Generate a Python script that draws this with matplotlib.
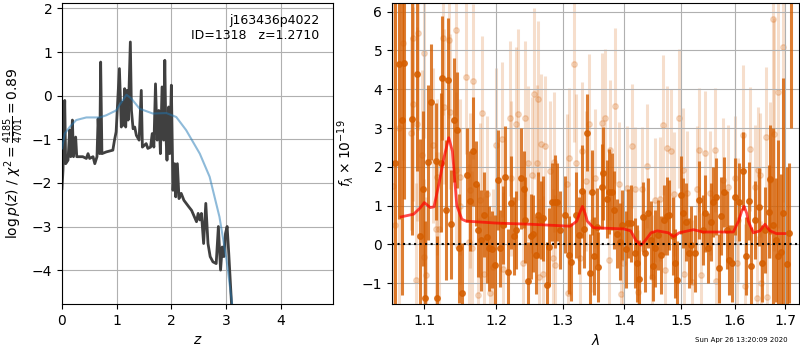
import matplotlib
matplotlib.use('Agg')
import matplotlib.pyplot as plt
from matplotlib.ticker import FixedLocator, NullLocator

################## data: p(z) panel
z_pz = [0.0, 0.018, 0.05, 0.067, 0.11, 0.14, 0.16, 0.19, 0.21, 0.25, 0.27, 0.38, 0.445, 0.476,
        0.506, 0.567, 0.60, 0.64, 0.66, 0.69, 0.707, 0.73, 0.81, 0.93, 0.96, 0.99, 1.05, 1.085,
        1.10, 1.13, 1.146, 1.165, 1.19, 1.21, 1.25, 1.27, 1.30, 1.33, 1.36, 1.41, 1.45, 1.47,
        1.54, 1.57, 1.62, 1.65, 1.68, 1.71, 1.74, 1.77, 1.80, 1.83, 1.86, 1.88, 1.90, 1.92,
        1.95, 1.97, 2.00, 2.03, 2.06, 2.08, 2.11, 2.14, 2.18, 2.23, 2.32, 2.37, 2.46, 2.49,
        2.52, 2.55, 2.59, 2.63, 2.67, 2.71, 2.76, 2.82, 2.86, 2.90, 2.93, 2.96, 2.99, 3.02,
        3.05, 3.10, 3.13]
logp = [-2.13, -1.71, -0.11, -1.56, -1.48, -0.79, -1.40, -0.56, -1.40, -0.95, -1.40, -1.40, -1.44, -1.33,
        -1.44, -1.40, -1.56, -1.40, -0.53, -1.33, 0.77, -1.33, -1.29, -1.25, -1.02, -0.83, 0.62, -0.72,
        -0.15, -0.68, 0.16, -0.72, 0.12, -0.56, 1.23, -0.34, -0.76, -0.72, -0.91, -1.02, 0.12, -1.18,
        -1.10, -1.21, -1.18, -0.87, -1.18, 0.27, -1.02, -0.34, -1.33, 0.20, -1.02, 0.81, -0.87, -1.48,
        -0.26, -1.33, 0.24, -2.17, -1.56, -2.32, -1.56, -2.36, -2.24, -2.40, -2.55, -2.63, -2.89, -2.70,
        -2.85, -2.70, -3.39, -2.47, -3.39, -3.69, -3.81, -3.85, -3.00, -4.00, -3.47, -3.69, -3.16, -3.00,
        -3.62, -4.76, -5.50]

z_smooth = [0.0, 0.05, 0.14, 0.26, 0.445, 0.69, 0.81, 0.99, 1.05, 1.18, 1.27, 1.42, 1.66, 1.91,
            2.09, 2.27, 2.52, 2.70, 2.88, 3.01, 3.11, 3.16]
logp_smooth = [-1.21, -0.87, -0.72, -0.56, -0.50, -0.50, -0.45, -0.34, -0.22, 0.02, -0.07, -0.30, -0.41, -0.40,
               -0.49, -0.79, -1.33, -1.86, -2.78, -3.77, -4.76, -5.50]

################## data: spectrum panel (flux in 1e-19 units, wave in microns)
dark_wave = [1.0623, 1.0665, 1.0709, 1.0739, 1.0842, 1.0907, 1.0947, 1.0987, 1.1013, 1.1053, 1.1093,
             1.1156, 1.1174, 1.1224, 1.1237, 1.1286, 1.1313, 1.1354, 1.1395, 1.1437, 1.1465, 1.1506,
             1.1587, 1.1617, 1.1659, 1.1702, 1.1730, 1.1778, 1.1821, 1.1863, 1.1900, 1.1935, 1.1978,
             1.2016, 1.2045, 1.2094, 1.2132, 1.2176, 1.2211, 1.2260, 1.2294, 1.2368, 1.2405, 1.2424,
             1.2459, 1.2504, 1.2540, 1.2580, 1.2624, 1.2661, 1.2700, 1.2752, 1.2783, 1.2834, 1.2876,
             1.2912, 1.2959, 1.3042, 1.3100, 1.3137, 1.3211, 1.3264, 1.3307, 1.3344, 1.3392, 1.3435,
             1.3463, 1.3500, 1.3544, 1.3570, 1.3626, 1.3652, 1.3709, 1.3751, 1.3791, 1.3830, 1.3875,
             1.3930, 1.3964, 1.4031, 1.4070, 1.4121, 1.4179, 1.4219, 1.4253, 1.4316, 1.4356, 1.4408,
             1.4455, 1.4501, 1.4536, 1.4588, 1.4636, 1.4689, 1.4736, 1.4783, 1.4843, 1.4890, 1.4926,
             1.4987, 1.5034, 1.5089, 1.5132, 1.5180, 1.5248, 1.5326, 1.5389, 1.5438, 1.5493, 1.5544,
             1.5587, 1.5638, 1.5688, 1.5738, 1.5795, 1.5841, 1.5891, 1.5943, 1.6007, 1.6078, 1.6150,
             1.6214, 1.6273, 1.6317, 1.6397, 1.6475, 1.6523, 1.6595, 1.6663, 1.6689, 1.6749, 1.6810,
             1.6851, 1.6905, 1.6952, 1.7028, 1.7082, 1.7117]
dark_flux = [2.11, 4.65, 3.20, 4.68, 3.23, 4.39, 0.21, 1.44, -1.39, 2.12, 3.67,
             2.14, -1.39, 2.11, 4.28, 0.88, 4.25, 0.52, 3.20, 2.95, -0.10, -1.26,
             1.79, 1.12, 2.40, 1.57, 0.37, 0.11, 0.77, 0.20, -0.10, -0.13, -0.53,
             1.66, -0.10, 0.50, 1.74, -0.70, 1.07, 0.21, 0.37, 1.70, 1.42, 0.63,
             -0.94, 0.21, 0.28, -0.27, 0.76, 0.63, 0.67, -1.05, -0.06, 1.10, 1.10,
             1.10, 0.37, 0.77, -0.27, -0.45, 0.76, 0.23, 1.37, 0.39, 2.88, -0.73,
             1.34, -0.30, 0.46, -0.58, 1.49, 1.83, 1.17, 1.36, 1.36, 0.88, 0.28,
             0.07, 0.50, -0.13, 0.54, 0.54, -0.23, -0.49, -0.88, 0.71, -0.23, 0.80,
             0.11, -0.56, -0.10, 0.24, -0.27, 0.64, 0.73, 0.76, 0.21, -0.49, -0.92,
             1.27, 0.80, 0.58, -0.23, -0.02, -0.23, 1.14, 0.37, 0.80, -0.10, 0.58,
             1.10, 1.23, -0.62, 0.73, 1.36, 0.37, -0.40, -0.49, 1.23, 1.10, 1.90,
             -0.30, 1.12, -0.56, 0.63, 0.97, -0.49, 0.37, 0.84, 1.68, 0.50, 0.11,
             -0.30, -0.19, 0.80, -0.50, 0.30, 9.00]
dark_err = [5.0, 4.0, 4.5, 3.5, 3.0, 2.5, 2.5, 2.0, 2.0, 2.0, 1.5,
            1.5, 1.6, 1.8, 1.6, 1.8, 1.6, 1.4, 1.6, 1.5, 1.4, 1.3,
            1.2, 1.3, 1.4, 1.1, 1.2, 1.3, 1.1, 1.2, 1.1, 1.0, 1.3,
            1.3, 1.0, 1.0, 1.3, 1.1, 1.2, 1.0, 1.0, 1.3, 1.0, 1.1,
            1.0, 1.1, 1.0, 1.0, 1.1, 1.0, 1.1, 1.1, 1.0, 1.0, 1.2,
            1.0, 1.0, 1.0, 1.0, 1.0, 1.1, 1.0, 1.2, 1.0, 1.0, 1.0,
            1.1, 1.0, 1.0, 0.9, 1.1, 1.2, 1.0, 1.1, 1.0, 1.0, 0.9,
            1.0, 0.9, 1.0, 0.9, 1.0, 0.9, 1.0, 1.0, 0.9, 1.0, 0.9,
            1.0, 0.9, 1.0, 0.9, 1.0, 0.9, 1.0, 0.9, 1.0, 0.9, 1.0,
            1.0, 0.9, 1.0, 0.9, 1.0, 1.0, 1.0, 0.9, 1.0, 0.9, 1.0,
            0.9, 1.0, 0.9, 1.0, 0.9, 1.0, 0.9, 1.0, 1.0, 1.0, 1.0,
            1.0, 1.0, 1.0, 1.0, 1.0, 1.0, 1.1, 1.2, 1.4, 2.5, 1.6,
            3.0, 2.0, 3.5, 2.5, 1.8, 6.0]

light_wave = [1.0597, 1.0623, 1.0674, 1.0726, 1.0825, 1.0846, 1.0855, 1.0903, 1.0888, 1.0920, 1.0991,
              1.0973, 1.1000, 1.1027, 1.1116, 1.1156, 1.1170, 1.1191, 1.1248, 1.1259, 1.1332, 1.1340,
              1.1423, 1.1433, 1.1478, 1.1488, 1.1571, 1.1603, 1.1627, 1.1651, 1.1665, 1.1758, 1.1740,
              1.1792, 1.1815, 1.1863, 1.1910, 1.1957, 1.1996, 1.2088, 1.2103, 1.2191, 1.2216, 1.2285,
              1.2324, 1.2389, 1.2416, 1.2473, 1.2533, 1.2564, 1.2615, 1.2597, 1.2635, 1.2661, 1.2700,
              1.2726, 1.2803, 1.2855, 1.2866, 1.2886, 1.3064, 1.3105, 1.3084, 1.3184, 1.3211, 1.3275,
              1.3302, 1.3376, 1.3411, 1.3463, 1.3517, 1.3626, 1.3672, 1.3763, 1.3746, 1.3846, 1.3918,
              1.3947, 1.3972, 1.4052, 1.4138, 1.4184, 1.4241, 1.4299, 1.4385, 1.4472, 1.4530, 1.4618,
              1.4677, 1.4707, 1.4733, 1.4808, 1.4866, 1.4962, 1.5034, 1.5056, 1.5096, 1.5187, 1.5278,
              1.5326, 1.5357, 1.5432, 1.5525, 1.5619, 1.5647, 1.5765, 1.5872, 1.6001, 1.6034, 1.6053,
              1.6162, 1.6195, 1.6292, 1.6391, 1.6424, 1.6456, 1.6489, 1.6519, 1.6610, 1.6638, 1.6699,
              1.6743, 1.6770, 1.6857, 1.6946]
light_flux = [1.50, 0.50, 3.00, 5.18, 2.86, 5.31, 3.61, 3.10, -0.92, 5.44, 4.94,
              2.30, -0.32, -0.79, 2.56, 0.39, 1.74, 0.39, 5.33, 3.55, 5.27, 3.42,
              1.92, 5.54, 0.99, 1.74, 4.32, 0.07, 1.40, -0.10, 4.21, 1.14, -1.31,
              3.38, -0.75, 1.31, -1.26, -0.58, 2.56, 2.71, -0.64, 3.25, 1.70, 3.10,
              3.35, -0.49, 3.25, 2.09, 1.79, 3.89, 3.76, 2.10, -0.83, 2.59, -0.75,
              2.53, 1.90, -0.36, 2.13, -0.52, 1.57, 2.22, -1.26, 4.65, 2.09, -0.36,
              2.40, 1.63, 3.10, 0.58, 1.70, 3.14, 3.25, 2.43, -0.40, 3.58, 1.55,
              -1.28, -0.49, 1.46, 2.54, 1.42, -1.22, 1.42, 2.03, -0.83, 1.14, 1.16,
              3.08, -0.66, 2.49, 2.40, 1.29, 3.25, 1.92, -0.75, 1.33, -0.96, 1.44,
              2.43, -0.79, 2.35, 1.33, 2.43, -0.94, 1.66, 1.49, 1.70, -0.49, 0.63,
              2.82, -1.07, 2.47, 1.49, -1.39, 1.93, 1.79, -0.99, 2.77, -1.35, 1.66,
              5.82, 2.84, 3.93, 5.09]
light_err = [5.0, 6.0, 5.0, 3.0, 2.5, 2.5, 2.5, 2.5, 2.5, 2.5, 2.2,
             2.2, 2.0, 2.0, 2.0, 2.0, 2.0, 2.0, 2.0, 2.0, 2.0, 2.0,
             2.0, 2.2, 2.0, 2.0, 2.0, 2.0, 2.0, 2.0, 2.0, 2.0, 2.0,
             2.0, 2.0, 2.0, 2.0, 2.0, 2.0, 2.0, 2.0, 2.0, 2.0, 2.0,
             2.2, 2.0, 2.0, 2.0, 2.0, 2.2, 2.0, 2.0, 2.0, 1.8, 2.0,
             1.8, 1.8, 1.8, 1.8, 1.8, 1.8, 1.8, 1.8, 2.0, 1.8, 1.8,
             1.8, 1.8, 1.8, 1.8, 1.8, 1.8, 1.8, 1.8, 1.8, 2.0, 1.6,
             1.6, 1.6, 1.6, 1.6, 1.6, 1.6, 1.6, 1.6, 1.6, 1.6, 1.6,
             1.8, 1.6, 1.6, 1.6, 1.6, 1.8, 1.6, 1.6, 1.6, 1.6, 1.6,
             1.6, 1.6, 1.6, 1.6, 1.6, 1.6, 1.6, 1.6, 1.6, 1.6, 1.6,
             1.8, 1.6, 1.6, 1.6, 1.6, 1.6, 1.6, 1.6, 1.8, 1.8, 2.0,
             3.0, 3.0, 3.5, 4.0]

model_wave = [1.0697, 1.0860, 1.0950, 1.1000, 1.1080, 1.1130, 1.1200, 1.1260, 1.1330, 1.1380,
              1.1440, 1.1510, 1.1570, 1.2000, 1.2500, 1.3116, 1.3222, 1.3265, 1.3312, 1.3355,
              1.3390, 1.3490, 1.3989, 1.4110, 1.4200, 1.4285, 1.4360, 1.4460, 1.4570, 1.4765,
              1.4860, 1.4960, 1.5220, 1.5400, 1.5970, 1.6070, 1.6130, 1.6180, 1.6230, 1.6260,
              1.6360, 1.6490, 1.6590, 1.6690, 1.6820, 1.6990]
model_flux = [0.71, 0.78, 0.95, 1.08, 0.95, 0.97, 1.60, 2.20, 2.75, 2.40,
              1.00, 0.65, 0.60, 0.55, 0.52, 0.47, 0.60, 0.80, 0.98, 0.80,
              0.60, 0.43, 0.40, 0.35, 0.10, -0.02, 0.10, 0.30, 0.35, 0.30,
              0.20, 0.30, 0.38, 0.32, 0.32, 0.60, 0.85, 0.98, 0.80, 0.60,
              0.30, 0.35, 0.52, 0.35, 0.28, 0.28]

xticks_spec = [1.1, 1.2, 1.3, 1.4, 1.5, 1.6, 1.7]
grism_color = (0.8352941176470589, 0.3686274509803922, 0.0)

################## figure
fig = plt.figure(figsize=(8, 3.5), dpi=100)

axz = fig.add_axes([0.0775, 0.131, 0.339, 0.860])
axz.plot(z_pz, logp, color='0.25', lw=2, zorder=2)
axz.plot(z_smooth, logp_smooth, color='#1f77b4', alpha=0.5, lw=1.5, zorder=3)
axz.set_xlim(0, 4.96)
axz.set_ylim(-4.78, 2.12)
axz.set_xticks([0, 1, 2, 3, 4])
axz.set_yticks([-4, -3, -2, -1, 0, 1, 2])
axz.grid(True)
axz.set_xlabel('$z$')
axz.set_ylabel(r'$\log p(z)$ / $\chi^2=\frac{4185}{4701}=0.89$')
axz.text(0.95, 0.965, 'j163436p4022\nID=1318   z=1.2710', transform=axz.transAxes,
         ha='right', va='top', fontsize=9)

axs = fig.add_axes([0.49, 0.131, 0.509, 0.860])
axs.errorbar(light_wave, light_flux, light_err, marker='o', ms=4, linestyle='None',
             color=grism_color, alpha=0.2, elinewidth=2.2, zorder=1)
axs.errorbar(dark_wave, dark_flux, dark_err, marker='o', ms=4, linestyle='None',
             color=grism_color, alpha=0.8, elinewidth=2.2, zorder=2)
axs.plot(model_wave, model_flux, color='r', alpha=0.7, lw=2, zorder=4)
axs.axhline(0, color='k', linestyle=':', lw=1.5, zorder=5)
axs.set_xscale('log')
axs.set_xlim(1.058, 1.729)
axs.set_ylim(-1.54, 6.22)
axs.xaxis.set_major_locator(FixedLocator(xticks_spec))
axs.xaxis.set_minor_locator(NullLocator())
axs.set_xticklabels(['%.1f' % t for t in xticks_spec])
axs.set_yticks([-1, 0, 1, 2, 3, 4, 5, 6])
axs.grid(True)
axs.set_xlabel(r'$\lambda$')
axs.set_ylabel(r'$f_\lambda\times 10^{-19}$')

fig.text(0.985, 0.028, 'Sun Apr 26 13:20:09 2020', ha='right', va='center', fontsize=5)

fig.savefig('out.png', dpi=100)
